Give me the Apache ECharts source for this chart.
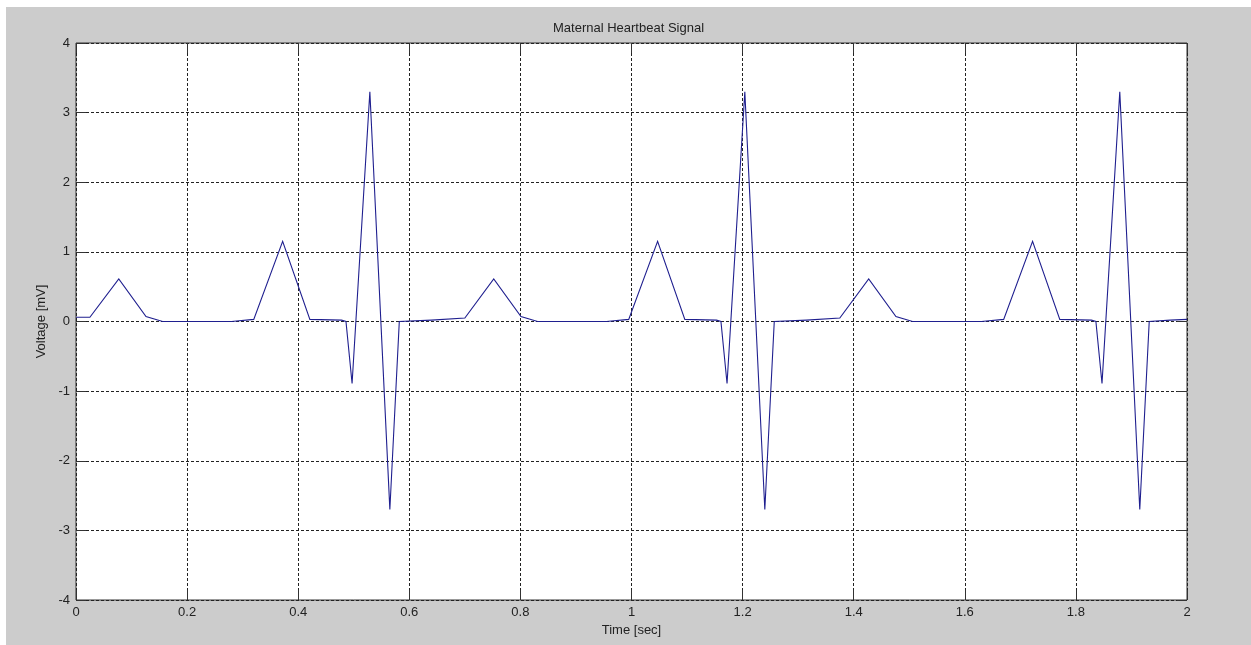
<!DOCTYPE html>
<html>
<head>
<meta charset="utf-8">
<script src="https://cdn.jsdelivr.net/npm/echarts@6/dist/echarts.min.js"></script>
<style>
  html, body { margin: 0; padding: 0; background: #ffffff; width: 1251px; height: 645px; overflow: hidden; }
  #chart { position: absolute; left: 6px; top: 7px; width: 1245px; height: 638px; background: #cccccc; }
</style>
</head>
<body>
<div id="chart"></div>
<script>
// Time samples (seconds) and voltage (mV)
const timeSec = [
  0.000, 0.025, 0.077, 0.126, 0.156, 0.280, 0.320, 0.372, 0.421, 0.478, 0.486, 0.497, 0.529, 0.565, 0.582, 0.640, 0.700,
  0.752, 0.801, 0.831, 0.955, 0.995, 1.047, 1.096, 1.153, 1.161, 1.172, 1.204, 1.240, 1.257, 1.315, 1.375,
  1.427, 1.476, 1.506, 1.630, 1.670, 1.722, 1.771, 1.828, 1.836, 1.847, 1.879, 1.915, 1.932, 1.970, 2.000
];
const voltageMv = [
  0.06, 0.06, 0.61, 0.07, 0.00, 0.00, 0.03, 1.15, 0.03, 0.02, 0.00, -0.89, 3.30, -2.70, 0.00, 0.02, 0.05,
  0.61, 0.07, 0.00, 0.00, 0.03, 1.15, 0.03, 0.02, 0.00, -0.89, 3.30, -2.70, 0.00, 0.02, 0.05,
  0.61, 0.07, 0.00, 0.00, 0.03, 1.15, 0.03, 0.02, 0.00, -0.89, 3.30, -2.70, 0.00, 0.02, 0.03
];
const xTicks = { min: 0, max: 2, interval: 0.2 };
const yTicks = { min: -4, max: 4, interval: 1 };
const chartTitle = 'Maternal Heartbeat Signal';
const xName = 'Time [sec]';
const yName = 'Voltage [mV]';

const points = timeSec.map((t, i) => [t, voltageMv[i]]);
const font = 'Liberation Sans, Arial, sans-serif';
const tick = { show: true, inside: true, length: 10, lineStyle: { color: '#333', width: 1 } };
const grid = { type: [3, 2], color: '#222', width: 1 };
const noLine = { show: false, onZero: false };

const chart = echarts.init(document.getElementById('chart'), null, { renderer: 'canvas' });
chart.setOption({
  backgroundColor: '#cccccc',
  animation: false,
  title: {
    text: chartTitle, left: 'center', top: 10,
    textStyle: { fontFamily: font, fontSize: 13, fontWeight: 'normal', color: '#222' }
  },
  grid: {
    left: 70, top: 36, right: 64, bottom: 45, show: true,
    backgroundColor: '#ffffff', borderColor: '#333', borderWidth: 1
  },
  xAxis: [
    {
      type: 'value', min: xTicks.min, max: xTicks.max, interval: xTicks.interval, position: 'bottom',
      name: xName, nameLocation: 'middle', nameGap: 22,
      nameTextStyle: { fontFamily: font, fontSize: 13, color: '#222' },
      axisLine: noLine, axisTick: tick,
      axisLabel: { fontFamily: font, fontSize: 13, color: '#222', margin: 6 },
      splitLine: { show: true, lineStyle: grid }
    },
    {
      type: 'value', min: xTicks.min, max: xTicks.max, interval: xTicks.interval, position: 'top',
      axisLine: noLine, axisTick: tick, axisLabel: { show: false }, splitLine: { show: false }
    }
  ],
  yAxis: [
    {
      type: 'value', min: yTicks.min, max: yTicks.max, interval: yTicks.interval, position: 'left',
      name: yName, nameLocation: 'middle', nameGap: 24,
      nameTextStyle: { fontFamily: font, fontSize: 13, color: '#222' },
      axisLine: noLine, axisTick: tick,
      axisLabel: { fontFamily: font, fontSize: 13, color: '#222', margin: 6 },
      splitLine: { show: true, lineStyle: grid }
    },
    {
      type: 'value', min: yTicks.min, max: yTicks.max, interval: yTicks.interval, position: 'right',
      axisLine: noLine, axisTick: tick, axisLabel: { show: false }, splitLine: { show: false }
    }
  ],
  series: [{
    type: 'line', data: points, xAxisIndex: 0, yAxisIndex: 0,
    showSymbol: false, symbol: 'none',
    lineStyle: { color: '#1f1f8f', width: 1.1, join: 'miter' },
    z: 5
  }]
});
</script>
</body>
</html>
